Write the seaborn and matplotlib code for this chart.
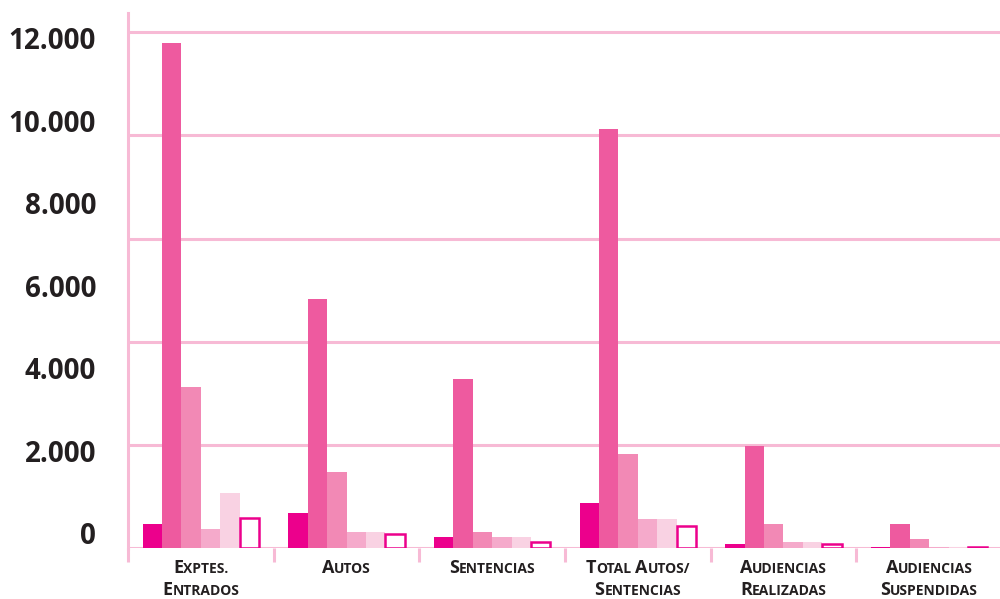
import numpy as np
import pandas as pd
import seaborn as sns
import matplotlib
matplotlib.use("Agg")
import matplotlib.pyplot as plt
from matplotlib.offsetbox import TextArea, HPacker, VPacker, AnnotationBbox

# categories, shown as small caps in two lines
groups = ["Exptes. Entrados", "Autos", "Sentencias", "Total Autos/Sentencias",
          "Audiencias Realizadas", "Audiencias Suspendidas"]
group_lines = [["Exptes.", "Entrados"], ["Autos"], ["Sentencias"],
               ["Total Autos/", "Sentencias"], ["Audiencias", "Realizadas"],
               ["Audiencias", "Suspendidas"]]

# six series (no legend in the reference)
series = ["Serie 1", "Serie 2", "Serie 3", "Serie 4", "Serie 5", "Serie 6"]
serie_1 = [560, 810, 260, 1050, 95, 30]
serie_2 = [11740, 5790, 3930, 9740, 2370, 560]
serie_3 = [3740, 1770, 370, 2190, 560, 210]
serie_4 = [440, 370, 260, 670, 140, 15]
serie_5 = [1280, 370, 260, 670, 140, 15]
serie_6 = [700, 330, 140, 510, 95, 30]

ytick_labels = ["0", "2.000", "4.000", "6.000", "8.000", "10.000", "12.000"]

colors = ["#EC008C", "#EE5A9F", "#F289B5", "#F5AACB", "#F9D2E3", "#FFFFFF"]
grid_color = "#F7BAD5"
text_color = "#231F20"

df = pd.DataFrame({
    "grupo": groups * 6,
    "serie": np.repeat(series, len(groups)),
    "valor": serie_1 + serie_2 + serie_3 + serie_4 + serie_5 + serie_6,
})

sns.set_theme(style="white")
plt.rcParams["font.family"] = ["Open Sans", "DejaVu Sans"]

fig = plt.figure(figsize=(10, 5.99), dpi=100)
ax = fig.add_axes([0.128, 0.085, 0.874, 0.893])

sns.barplot(data=df, x="grupo", y="valor", hue="serie", order=groups,
            hue_order=series, palette=colors, width=0.8, gap=0,
            saturation=1, linewidth=0, legend=False, ax=ax, zorder=3)

# last series: white bars with magenta outline
for patch in ax.containers[-1]:
    patch.set_edgecolor("#EC008C")
    patch.set_linewidth(1.8)

ax.set_xlim(-0.5, len(groups) - 0.5)
ax.set_ylim(0, 12442)

# gridlines every 2400, labels on their own positions (as in the reference)
grid_vals = np.arange(0, 12001, 2400)
ax.set_yticks(grid_vals, minor=True)
ax.set_yticks(np.linspace(350, 11860, 7))
ax.set_yticklabels(ytick_labels)
ax.grid(False)
for v in grid_vals:
    ax.axhline(v, color=grid_color, lw=2.2, zorder=1)
ax.tick_params(axis="y", which="minor", length=9, width=2.2, color=grid_color,
               direction="out")
ax.tick_params(axis="y", which="major", length=0, pad=23, labelsize=20,
               labelcolor=text_color)
for t in ax.get_yticklabels():
    t.set_fontweight("bold")

# category boundary ticks
ax.set_xticks(np.arange(-0.5, len(groups), 1.0), minor=True)
ax.set_xticks(range(len(groups)))
ax.set_xticklabels([])
ax.tick_params(axis="x", which="minor", length=10, width=2.2, color=grid_color,
               direction="out", bottom=True)
ax.tick_params(axis="x", which="major", length=0)
ax.set_xlabel("")
ax.set_ylabel("")

for side in ["top", "right", "bottom"]:
    ax.spines[side].set_visible(False)
ax.spines["left"].set_color(grid_color)
ax.spines["left"].set_linewidth(2.2)

# small caps category labels
big = dict(fontsize=13, fontweight="bold", color=text_color, family="Open Sans")
small = dict(fontsize=10, fontweight="bold", color=text_color, family="Open Sans")


def small_caps(line):
    words = []
    for word in line.split(" "):
        parts = [TextArea(word[0].upper(), textprops=big)]
        if len(word) > 1:
            parts.append(TextArea(word[1:].upper(), textprops=small))
        words.append(HPacker(children=parts, align="baseline", pad=0, sep=0))
    return HPacker(children=words, align="baseline", pad=0, sep=3)


for i, lines in enumerate(group_lines):
    box = VPacker(children=[small_caps(l) for l in lines], align="center",
                  pad=0, sep=3)
    ab = AnnotationBbox(box, (i, 0), xycoords=ax.get_xaxis_transform(),
                        xybox=(0, -8), boxcoords="offset points",
                        box_alignment=(0.5, 1), frameon=False,
                        annotation_clip=False)
    ax.add_artist(ab)

fig.savefig("out.png", dpi=100)
